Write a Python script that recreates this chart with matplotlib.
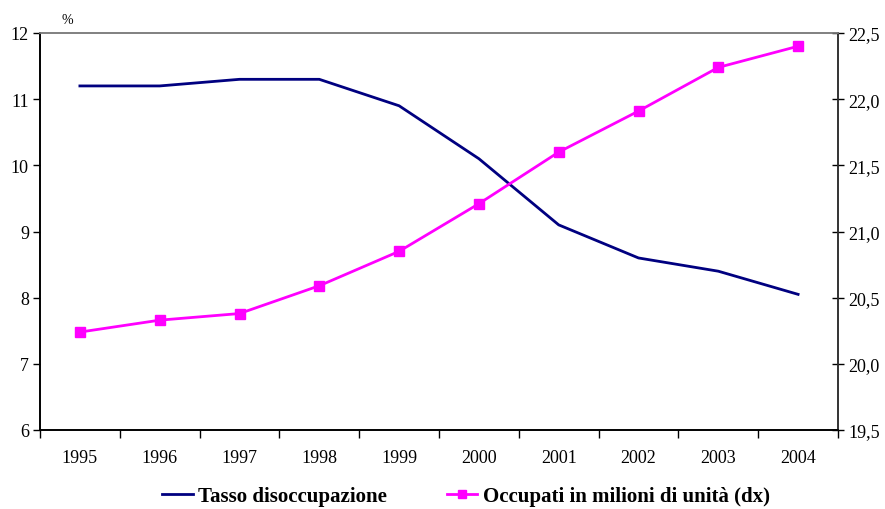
import matplotlib.pyplot as plt
from matplotlib.ticker import FixedLocator, NullFormatter, FuncFormatter

plt.rcParams['font.family'] = ['Liberation Serif', 'DejaVu Serif']

years = ['1995', '1996', '1997', '1998', '1999', '2000', '2001', '2002', '2003', '2004']
tasso = [11.2, 11.2, 11.3, 11.3, 10.9, 10.1, 9.1, 8.6, 8.4, 8.05]
occupati = [20.24, 20.33, 20.38, 20.59, 20.85, 21.21, 21.60, 21.91, 22.24, 22.40]

navy = '#000080'
magenta = '#FF00FF'

fig = plt.figure(figsize=(8.85, 5.1), dpi=100)
ax = fig.add_axes([40 / 885, 1 - 431 / 510, 798 / 885, 397 / 510])
ax2 = ax.twinx()

x = list(range(len(years)))
l1, = ax.plot(x, tasso, color=navy, lw=2.0, label='Tasso disoccupazione')
l2, = ax2.plot(x, occupati, color=magenta, lw=2.0, marker='s', markersize=7,
               label='Occupati in milioni di unità (dx)')

ax.set_xlim(-0.5, len(years) - 0.5)
ax.set_ylim(6, 12)
ax2.set_ylim(19.5, 22.5)

# category labels centred, tick marks on the boundaries
ax.xaxis.set_major_locator(FixedLocator([i - 0.5 for i in range(len(years) + 1)]))
ax.xaxis.set_major_formatter(NullFormatter())
ax.xaxis.set_minor_locator(FixedLocator(x))
ax.set_xticklabels(years, minor=True)
ax.tick_params(axis='x', which='major', direction='out', length=6, width=1, color='black')
ax.tick_params(axis='x', which='minor', length=0, pad=14, labelsize=13)

ax.set_yticks(range(6, 13))
ax.tick_params(axis='y', direction='out', length=5, width=1, labelsize=13, pad=3)

ax2.set_yticks([19.5, 20.0, 20.5, 21.0, 21.5, 22.0, 22.5])
ax2.yaxis.set_major_formatter(FuncFormatter(lambda v, p: f'{v:.1f}'.replace('.', ',')))
ax2.tick_params(axis='y', direction='inout', length=9, width=1, labelsize=13, pad=3)

for a in (ax, ax2):
    a.spines['top'].set_color('#808080')
    a.spines['left'].set_color('black')
    a.spines['bottom'].set_color('black')
    a.spines['right'].set_color('#333333')
    for s in a.spines.values():
        s.set_linewidth(1.2)

fig.text(62 / 885, 1 - 21 / 510, '%', fontsize=10, ha='left', va='center')

fig.legend([l1, l2], [l1.get_label(), l2.get_label()], loc='center',
           bbox_to_anchor=(466 / 885, 1 - 497 / 510), ncol=2, frameon=False,
           prop={'weight': 'bold', 'size': 15}, columnspacing=2.9,
           handlelength=1.45, handletextpad=0.25, borderpad=0, markerscale=0.8)

fig.savefig('out.png', dpi=100)
